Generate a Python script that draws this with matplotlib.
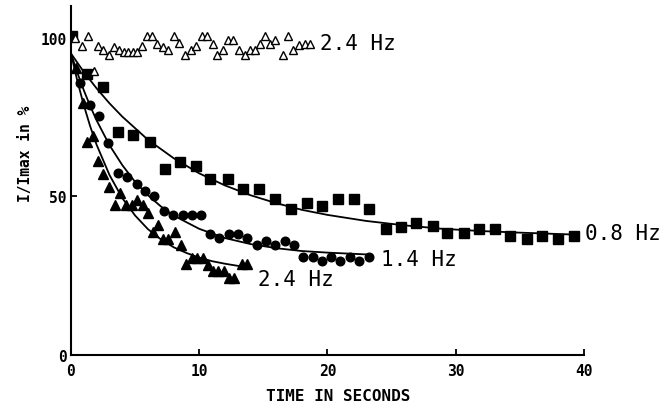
import matplotlib
matplotlib.use("Agg")
import matplotlib.pyplot as plt

# 0.8 Hz (filled squares)
sq_t = [0.1, 1.25, 2.47, 3.66, 4.83, 6.13, 7.35, 8.52, 9.77, 10.86, 12.24, 13.43, 14.68,
        15.92, 17.12, 18.37, 19.59, 20.81, 22.03, 23.25, 24.55, 25.70, 26.94, 28.19,
        29.33, 30.63, 31.82, 33.05, 34.27, 35.52, 36.71, 37.96, 39.21]
sq_y = [100.4, 88.6, 84.4, 70.4, 69.3, 67.2, 58.5, 60.7, 59.6, 55.3, 55.4, 52.2, 52.2,
        49.1, 45.9, 48.0, 47.0, 49.0, 49.0, 45.9, 39.6, 40.3, 41.7, 40.6,
        38.5, 38.5, 39.6, 39.6, 37.5, 36.4, 37.5, 36.4, 37.5]

# 1.4 Hz (filled circles)
ci_t = [0.74, 1.47, 2.18, 2.92, 3.64, 4.38, 5.11, 5.78, 6.51, 7.23, 7.97, 8.71, 9.43,
        10.13, 10.86, 11.58, 12.31, 13.03, 13.76, 14.47, 15.20, 15.92, 16.68, 17.38,
        18.11, 18.84, 19.55, 20.30, 21.01, 21.77, 22.49, 23.21]
ci_y = [85.8, 78.8, 75.2, 66.9, 57.2, 56.1, 53.8, 51.5, 50.2, 45.3, 44.2, 44.2, 44.2,
        44.2, 38.2, 36.9, 38.2, 38.2, 36.9, 34.5, 35.8, 34.5, 35.8, 34.5,
        30.8, 30.8, 29.7, 30.8, 29.7, 30.8, 29.7, 30.8]

# 2.4 Hz (filled triangles)
tr_t = [0.39, 0.91, 1.27, 1.74, 2.13, 2.52, 2.99, 3.43, 3.82, 4.29, 4.73, 5.12, 5.59,
        5.98, 6.37, 6.80, 7.19, 7.58, 8.11, 8.55, 8.96, 9.41, 9.80, 10.27, 10.70,
        11.09, 11.48, 11.93, 12.34, 12.70, 13.30, 13.69]
tr_y = [90.4, 79.3, 67.2, 69.1, 61.1, 56.9, 53.0, 47.2, 50.9, 47.2, 47.2, 48.7, 47.2,
        44.8, 38.7, 40.8, 36.6, 36.6, 38.7, 34.5, 28.7, 30.5, 30.5, 30.5, 28.4,
        26.4, 26.4, 26.4, 24.3, 24.3, 28.5, 28.5]

# 2.4 Hz control (open triangles)
ot_t = [0.31, 0.83, 1.35, 1.77, 2.13, 2.52, 2.99, 3.35, 3.77, 4.13, 4.47, 4.81, 5.17,
        5.51, 5.95, 6.29, 6.73, 7.14, 7.59, 8.03, 8.44, 8.89, 9.33, 9.74, 10.19,
        10.58, 11.04, 11.40, 11.87, 12.26, 12.65, 13.12, 13.56, 13.95, 14.34, 14.73,
        15.12, 15.51, 15.90, 16.50, 16.94, 17.33, 17.79, 18.24, 18.63]
ot_y = [99.9, 97.3, 100.4, 89.4, 97.3, 96.2, 94.4, 97.0, 96.2, 95.5, 95.5, 95.5, 95.5,
        97.3, 100.4, 100.4, 98.0, 97.0, 96.2, 100.4, 98.3, 94.4, 96.2, 97.3, 100.4,
        100.4, 98.0, 94.4, 96.2, 99.4, 99.4, 96.2, 94.4, 96.2, 96.2, 98.0,
        100.4, 98.0, 99.4, 94.4, 100.4, 96.2, 97.8, 98.0, 98.0]

# fitted curves
fit08_t = [0, 1, 2, 3, 4, 6, 8, 10, 12, 14, 16, 18, 20, 23, 26, 29, 32, 35, 39.2]
fit08_y = [95, 89.2, 84.0, 79.3, 75.1, 67.8, 62.0, 57.2, 53.4, 50.3, 47.8, 45.7, 44.1,
           42.2, 40.8, 39.7, 39.0, 38.5, 37.9]
fit14_t = [0, 0.5, 1, 1.5, 2, 3, 4, 5, 6, 7, 8, 10, 12, 14, 16, 18, 20, 23.2]
fit14_y = [95, 88.9, 83.4, 78.4, 73.9, 66.1, 59.8, 54.5, 50.3, 46.8, 43.9, 39.7, 36.8,
           34.9, 33.6, 32.7, 32.2, 31.6]
fit24_t = [0, 0.5, 1, 1.5, 2, 3, 4, 5, 6, 7, 8, 9, 10, 11, 12, 13.2]
fit24_y = [95, 86.3, 78.7, 72.0, 66.2, 56.7, 49.4, 43.9, 39.6, 36.4, 33.9, 32.1, 30.6,
           29.5, 28.7, 27.9]

fig = plt.figure(figsize=(6.71, 4.06), dpi=100)
ax = fig.add_axes([0.1058, 0.1239, 0.7645, 0.8589])

ax.plot(fit08_t, fit08_y, color='black', lw=1.3)
ax.plot(fit14_t, fit14_y, color='black', lw=1.3)
ax.plot(fit24_t, fit24_y, color='black', lw=1.3)

ax.plot(sq_t, sq_y, 's', color='black', ms=6.6, mec='black')
ax.plot(ci_t, ci_y, 'o', color='black', ms=6.2, mec='black')
ax.plot(tr_t, tr_y, '^', color='black', ms=6.6, mec='black')
ax.plot(ot_t, ot_y, '^', mfc='white', mec='black', mew=1.0, ms=5.5, ls='none')

mono = 'DejaVu Sans Mono'
ax.text(19.4, 98.3, '2.4 Hz', family=mono, fontsize=15, va='center', ha='left')
ax.text(40.1, 38.5, '0.8 Hz', family=mono, fontsize=15, va='center', ha='left', clip_on=False)
ax.text(24.2, 30.3, '1.4 Hz', family=mono, fontsize=15, va='center', ha='left')
ax.text(14.6, 24.0, '2.4 Hz', family=mono, fontsize=15, va='center', ha='left')

ax.set_xlim(0, 40)
ax.set_ylim(0, 110)
ax.set_xticks([0, 10, 20, 30, 40])
ax.set_yticks([0, 50, 100])
for s in ['top', 'right']:
    ax.spines[s].set_visible(False)
for s in ['left', 'bottom']:
    ax.spines[s].set_linewidth(1.5)
ax.tick_params(direction='in', length=4, width=1.3, pad=6)
for lab in ax.get_xticklabels() + ax.get_yticklabels():
    lab.set_family(mono)
    lab.set_fontweight('bold')
    lab.set_fontsize(10.5)
ax.tick_params(axis='y', pad=3)

ax.set_xlabel('TIME IN SECONDS', family=mono, fontweight='bold', fontsize=11.5)
ax.xaxis.set_label_coords(0.52, -0.095)
ax.set_ylabel('I/Imax in %', family=mono, fontweight='bold', fontsize=10.5)
ax.yaxis.set_label_coords(-0.075, 0.58)

fig.savefig('out.png', dpi=100)
